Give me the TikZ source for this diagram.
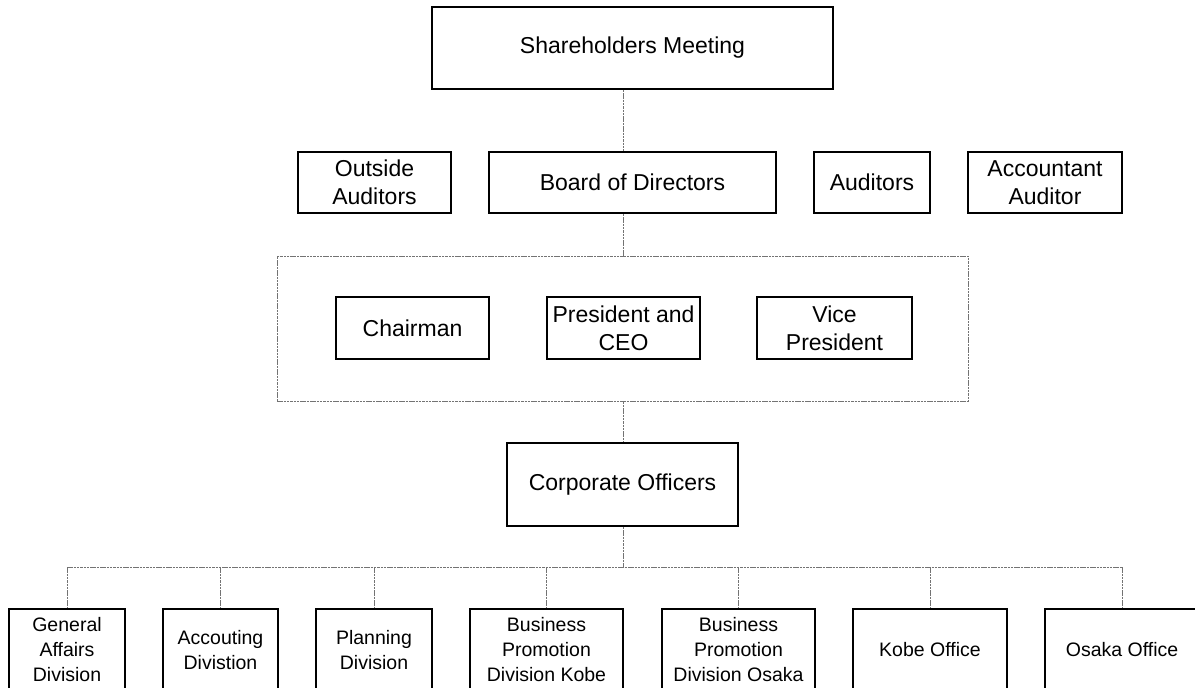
\documentclass[tikz,border=0pt]{standalone}
\usepackage{fontspec}
\setmainfont{Liberation Sans}
\begin{document}
\begin{tikzpicture}[x=1pt,y=-1pt,
  main box/.style={draw,line width=1.5pt,align=center,inner sep=0pt,minimum height=61,font=\fontsize{23}{28}\selectfont},
  low box/.style={main box,minimum height=82,minimum width=153,font=\fontsize{19.5}{25}\selectfont},
  link/.style={draw=black!55,line width=0.9pt,dash pattern=on 2.5pt off 0.8pt}]
				\useasboundingbox (0,0) rectangle (1195,688);
				\coordinate (spine) at (623,0);
				\coordinate (bus) at (0,567);

				\node[main box, minimum width=401, minimum height=82] at (632.5,48) (share) {Shareholders Meeting};
				\node[main box, minimum width=153] at (374.5,182.5) (outside) {Outside\\Auditors};
				\node[main box, minimum width=287] at (632.5,182.5) (board) {Board of Directors};
				\node[main box, minimum width=116] at (872,182.5) (auditors) {Auditors};
				\node[main box, minimum width=154] at (1045,182.5) (accaud) {Accountant\\Auditor};

				\node[link, minimum width=691, minimum height=145] at (622.5,328.5) (exec) {};
				\node[main box, minimum width=153, minimum height=62] at (412.5,328) (chair) {Chairman};
				\node[main box, minimum width=153, minimum height=62] at (623.5,328) (pres) {President and\\CEO};
				\node[main box, minimum width=155, minimum height=62] at (834.5,328) (vice) {Vice\\President};

				\node[main box, minimum width=231, minimum height=83] at (622.5,484.5) (officers) {Corporate Officers};

				\node[low box, minimum width=116] at (67,650) (ga) {General\\Affairs\\Division};
				\node[low box, minimum width=115] at (220.5,650) (acc) {Accouting\\Divistion};
				\node[low box, minimum width=116] at (374,650) (plan) {Planning\\Division};
				\node[low box] at (546.5,650) (bpk) {Business\\Promotion\\Division Kobe};
				\node[low box] at (738.5,650) (bpo) {Business\\Promotion\\Division Osaka};
				\node[low box, minimum width=154] at (930,650) (kobe) {Kobe Office};
				\node[low box, minimum width=154] at (1122,650) (osaka) {Osaka Office};

				\draw[link] (share.south -| spine) -- (board.north -| spine);
				\draw[link] (board.south -| spine) -- (exec.north -| spine);
				\draw[link] (exec.south -| spine) -- (officers.north -| spine);
				\draw[link] (officers.south -| spine) -- (spine |- bus);
				\draw[link] (ga.north |- bus) -- (osaka.north |- bus);
				\foreach \n in {ga,acc,plan,bpk,bpo,kobe,osaka}
					\draw[link] (\n.north |- bus) -- (\n.north);
			\end{tikzpicture}
\end{document}
